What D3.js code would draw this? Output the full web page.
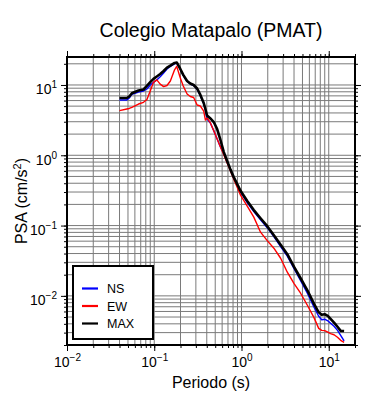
<!DOCTYPE html>
<html><head><meta charset="utf-8">
<script src="https://cdn.jsdelivr.net/npm/d3@7"></script>
<style>body{margin:0;background:#fff}svg{display:block}text{font-family:"Liberation Sans",Arial,Helvetica,sans-serif;fill:#000}</style>
</head><body><svg id="c" width="390" height="400"></svg>
<script>
const title = "Colegio Matapalo (PMAT)";
const xLabel = "Periodo (s)";
const yLabel = "PSA (cm/s";
const seriesNames = ["NS", "EW", "MAX"];
const seriesColors = ["#0000ff", "#ff0000", "#000000"];
const xMajorTicks = [0.01, 0.1, 1, 10];
const xTickExps = ["\u22122", "\u22121", "0", "1"];
const yMajorTicks = [0.01, 0.1, 1, 10];
const yTickExps = ["\u22122", "\u22121", "0", "1"];

const periods = [0.040,0.0485,0.0517,0.0554,0.066,0.0753,0.0824,0.090,0.098,0.107,0.117,0.128,0.140,0.153,0.171,0.181,0.199,0.215,0.238,0.259,0.283,0.310,0.338,0.369,0.386,0.403,0.440,0.481,0.526,0.574,0.627,0.685,0.748,0.815,0.893,0.975,1.164,1.384,1.653,1.973,2.35,2.81,3.35,3.99,4.76,5.69,6.78,7.67,8.31,8.99,9.75,10.5,11.5,12.6,13.7,15.0];
const psaMAX = [6.53,6.53,6.86,7.62,8.35,8.63,9.68,11.0,12.2,13.2,14.3,15.8,17.7,18.9,20.6,20.9,16.9,13.9,11.4,10.5,10.0,8.91,7.21,5.54,4.55,3.68,3.34,2.97,2.36,1.65,1.11,0.827,0.625,0.489,0.389,0.312,0.223,0.166,0.127,0.098,0.0729,0.0534,0.0392,0.0260,0.0178,0.0120,0.0077,0.00583,0.00538,0.00547,0.0052,0.00472,0.00417,0.00363,0.00318,0.00316];
const psaNS = [6.11,6.11,6.53,7.33,7.95,8.22,8.77,10.0,10.9,11.8,13.1,14.8,16.9,18.4,19.9,20.6,16.7,13.7,11.2,10.3,9.8,8.7,7.05,5.4,4.4,3.28,2.88,2.23,1.70,1.31,1.04,0.80,0.615,0.473,0.376,0.299,0.212,0.158,0.121,0.0933,0.0695,0.050,0.0367,0.0245,0.0165,0.0109,0.00689,0.00512,0.00457,0.00465,0.00442,0.00407,0.00369,0.00323,0.00275,0.00229];
const psaEW = [4.31,4.55,4.63,4.81,5.36,5.67,6.21,8.22,10.9,11.8,10.3,9.46,9.84,11.4,16.4,18.4,12.6,9.68,7.45,6.86,6.64,5.19,5.02,4.26,3.17,3.4,2.88,2.23,1.70,1.31,1.02,0.774,0.596,0.458,0.352,0.271,0.189,0.132,0.0805,0.0610,0.0476,0.0343,0.0217,0.0151,0.0109,0.00735,0.0049,0.00345,0.00323,0.0032,0.00304,0.0029,0.0028,0.00258,0.00233,0.00218];

const L = 67, R = 355, T = 57, B = 345;
const svg = d3.select("#c");
const x = d3.scaleLog().domain([0.01, 20]).range([L, R]);
const y = d3.scaleLog().domain([0.002, 25]).range([B, T]);

// grid
const xt = x.ticks(), yt = y.ticks();
const grid = svg.append("g").attr("stroke", "#7a7a7a").attr("stroke-width", 1);
xt.forEach(v => grid.append("line").attr("x1", x(v)).attr("x2", x(v)).attr("y1", T).attr("y2", B));
yt.forEach(v => grid.append("line").attr("y1", y(v)).attr("y2", y(v)).attr("x1", L).attr("x2", R));

// series
const series = [psaNS, psaEW, psaMAX];
const widths = [1.4, 1.4, 2.6];
const line = d3.line().x(d => x(d[0])).y(d => y(d[1]));
series.forEach((s, i) => {
  svg.append("path").datum(periods.map((p, j) => [p, s[j]]))
    .attr("d", line).attr("fill", "none").attr("stroke", seriesColors[i])
    .attr("stroke-width", widths[i]).attr("stroke-linejoin", "round");
});

// axes ticks
function styleAxis(g) { g.select(".domain").remove(); g.selectAll("line").attr("stroke", "#000").attr("stroke-width", 1); }
svg.append("g").attr("transform", `translate(0,${B})`).call(d3.axisBottom(x).tickValues(xt).tickSize(3).tickFormat("")).call(styleAxis);
svg.append("g").attr("transform", `translate(0,${T})`).call(d3.axisTop(x).tickValues(xt).tickSize(3).tickFormat("")).call(styleAxis);
svg.append("g").attr("transform", `translate(${L},0)`).call(d3.axisLeft(y).tickValues(yt).tickSize(3).tickFormat("")).call(styleAxis);
svg.append("g").attr("transform", `translate(${R},0)`).call(d3.axisRight(y).tickValues(yt).tickSize(3).tickFormat("")).call(styleAxis);
const xb = svg.append("g").attr("transform", `translate(0,${B})`).call(d3.axisBottom(x).tickValues(xMajorTicks).tickSize(6).tickFormat("")).call(styleAxis);
svg.append("g").attr("transform", `translate(0,${T})`).call(d3.axisTop(x).tickValues(xMajorTicks).tickSize(6).tickFormat("")).call(styleAxis);
const yl = svg.append("g").attr("transform", `translate(${L},0)`).call(d3.axisLeft(y).tickValues(yMajorTicks).tickSize(6).tickFormat("")).call(styleAxis);
svg.append("g").attr("transform", `translate(${R},0)`).call(d3.axisRight(y).tickValues(yMajorTicks).tickSize(6).tickFormat("")).call(styleAxis);

xb.selectAll(".tick").each(function(d, i) {
  const t = d3.select(this).append("text").attr("y", 22).attr("text-anchor", "middle").attr("font-size", 14);
  t.append("tspan").text("10");
  t.append("tspan").attr("font-size", 10).attr("dy", -6).text(xTickExps[i]);
});
yl.selectAll(".tick").each(function(d, i) {
  const t = d3.select(this).append("text").attr("x", -10).attr("y", 9).attr("text-anchor", "end").attr("font-size", 14);
  t.append("tspan").text("10");
  t.append("tspan").attr("font-size", 10).attr("dy", -6).text(yTickExps[i]);
});

// frame
svg.append("rect").attr("x", L).attr("y", T).attr("width", R - L).attr("height", B - T)
  .attr("fill", "none").attr("stroke", "#000").attr("stroke-width", 2);

// titles
svg.append("text").attr("x", (L + R) / 2).attr("y", 37).attr("text-anchor", "middle").attr("font-size", 19.5).text(title);
svg.append("text").attr("x", (L + R) / 2).attr("y", 388).attr("text-anchor", "middle").attr("font-size", 16).text(xLabel);
const yt2 = svg.append("text").attr("transform", `translate(27,${(T + B) / 2}) rotate(-90)`).attr("text-anchor", "middle").attr("font-size", 16);
yt2.append("tspan").text(yLabel);
yt2.append("tspan").attr("font-size", 11).attr("dy", -6).text("2");
yt2.append("tspan").attr("dy", 6).text(")");

// legend
const lg = svg.append("g");
lg.append("rect").attr("x", 73).attr("y", 266).attr("width", 80).attr("height", 73)
  .attr("fill", "#fff").attr("stroke", "#000").attr("stroke-width", 2);
const ly = [288.5, 306, 323.5];
seriesNames.forEach((n, i) => {
  lg.append("line").attr("x1", 82).attr("x2", 98).attr("y1", ly[i]).attr("y2", ly[i])
    .attr("stroke", seriesColors[i]).attr("stroke-width", 2.2);
  lg.append("text").attr("x", 107).attr("y", ly[i] + 4.5).attr("font-size", 12.5).text(n);
});
</script></body></html>
